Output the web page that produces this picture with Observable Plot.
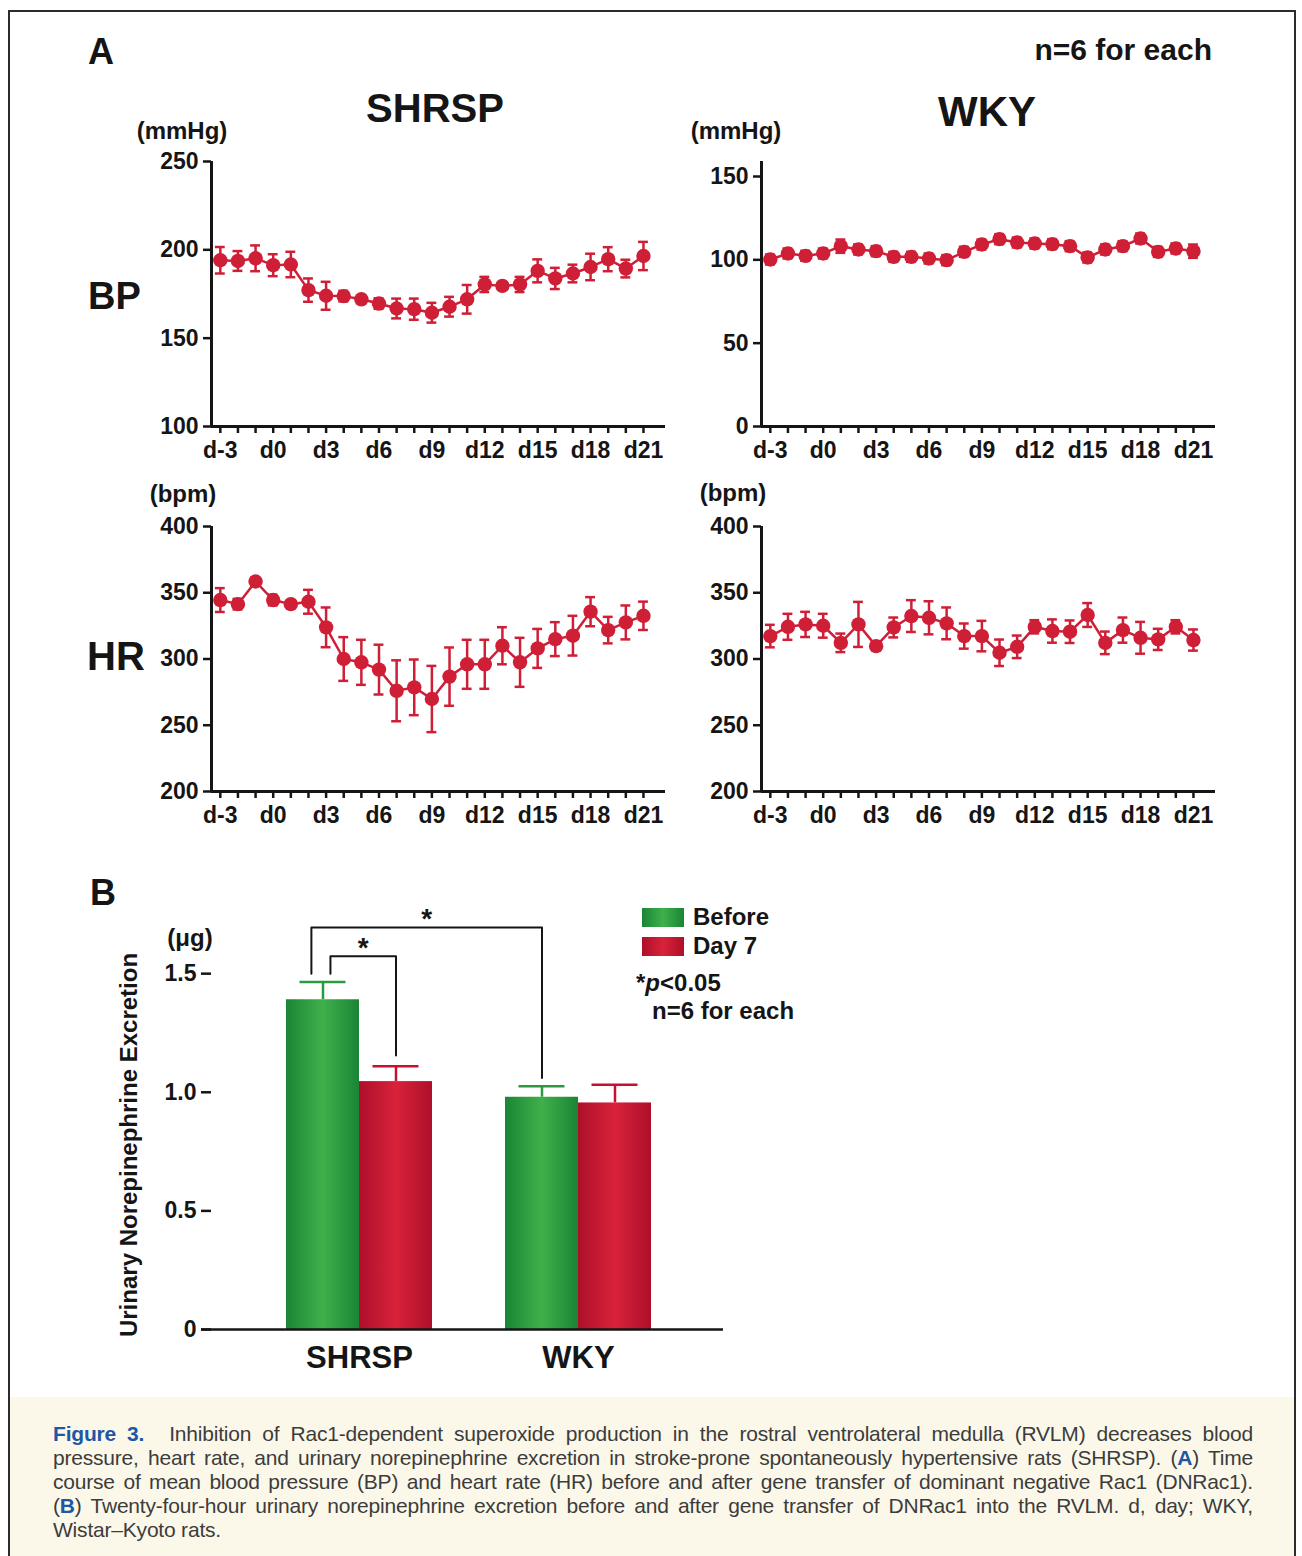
<!DOCTYPE html>
<html><head><meta charset="utf-8">
<script src="https://cdn.jsdelivr.net/npm/d3@7"></script>
<script src="https://cdn.jsdelivr.net/npm/@observablehq/plot@0.6"></script>
<style>
html,body{margin:0;padding:0;background:#fff;overflow:hidden;}
#fig{position:relative;width:1302px;height:1556px;overflow:hidden;font-family:"Liberation Sans",Arial,Helvetica,sans-serif;color:#151515;}
.lbl{position:absolute;white-space:nowrap;line-height:1;font-weight:bold;}
.plot{position:absolute;}
#frame{position:absolute;left:8px;top:10px;width:1284px;height:1600px;border:2.5px solid #2b2b2b;border-bottom:none;}
#capbg{position:absolute;left:10px;top:1397px;width:1284px;height:170px;background:#fbf8ea;}
#caption{position:absolute;left:53px;top:1422px;width:1200px;font-size:21px;line-height:24px;color:#3c3c3c;letter-spacing:-0.2px;}
#caption div{white-space:nowrap;text-align:justify;text-align-last:justify;}
#caption div.last{text-align-last:left;}
#caption b{color:#1f57a4;}
.sw{position:absolute;width:42px;height:19px;}
</style></head>
<body><div id="fig"><div id="capbg"></div><div id="frame"></div></div>
<script>
// ---------- data ----------
const days = [-3,-2,-1,0,1,2,3,4,5,6,7,8,9,10,11,12,13,14,15,16,17,18,19,20,21];
const dayLabels = ["d-3","d0","d3","d6","d9","d12","d15","d18","d21"];

const bpShrsp   = [194.1,193.7,195.2,191.3,191.7,177.2,174.0,173.8,172.0,169.6,166.8,166.4,164.4,167.8,172.0,180.4,179.6,180.4,188.1,183.8,186.6,190.3,194.7,189.4,196.5];
const bpShrspSE = [7.5,5.6,7.3,6.2,7.2,6.6,7.9,3,2,3,5.6,6,5.6,5.6,8.1,4.3,2,4.3,6.5,6,5,7.5,6.8,5,8];

const bpWky   = [100.2,103.8,102.4,103.8,108.2,106.2,105.2,101.8,101.8,100.8,99.8,104.8,109.2,112.4,110.4,109.8,109.4,108.2,101.4,106.2,108.2,112.8,104.8,106.8,105.2];
const bpWkySE = [3,3,3,3,4,3,3,3,3,3,3,3,3,3,3,3,3,3,3,3,3,3,3,3,4];

const hrShrsp   = [344.5,341.4,358.5,344.5,341.4,343.2,323.9,300.0,297.5,292.0,276.0,278.6,269.8,286.7,296.0,296.0,310.0,297.5,308.0,315.0,317.6,335.7,321.8,327.6,332.6];
const hrShrspSE = [9,4,3,4,2,9,15,16.5,17,18.8,23,21,25,22,18.5,18.5,14,18.5,14.7,12.8,15,11,10,12.8,10.7];

const hrWky   = [317.3,324.3,326.1,325.1,312.2,326.1,309.7,323.8,332.4,331.1,326.9,317.3,317.3,304.7,309.2,324.3,321.1,320.6,333.2,312.2,321.8,316.0,314.8,324.3,314.3];
const hrWkySE = [8.5,9.8,9.5,9,7,17,2,7.5,12,12.5,12,9.5,11.5,10,8.5,5,8.8,8.5,9,8.5,9.5,12,8,5,8];

const strains = ["SHRSP", "WKY"];
const phases = ["Before", "Day 7"];
const neBefore   = [1.39, 0.979];
const neBeforeSE = [0.075, 0.046];
const neDay7     = [1.045, 0.955];
const neDay7SE   = [0.065, 0.077];

// significance brackets: [strain index, phase index] pairs and heights (µg)
const sigPairs = [
  {a: [0, 0], b: [0, 1], top: 1.573, aBase: 1.50, bBase: 1.155, aShift: 0.034},
  {a: [0, 0], b: [1, 0], top: 1.695, aBase: 1.50, bBase: 1.06, aShift: -0.053}
];

// ---------- style ----------
const RED = "#cf1f36";
const FONT = '"Liberation Sans", Arial, Helvetica, sans-serif';
const fig = document.getElementById("fig");

function addLabel(html, x, y, size, anchor = "middle", extra = "") {
  const d = document.createElement("div");
  d.className = "lbl";
  d.innerHTML = html;
  d.style.left = x + "px";
  d.style.top = y + "px";
  d.style.fontSize = size + "px";
  const tx = anchor === "middle" ? "-50%" : anchor === "end" ? "-100%" : "0";
  d.style.transform = `translate(${tx},-50%)` + extra;
  fig.appendChild(d);
  return d;
}

function place(el, left, top) {
  el.classList.add("plot");
  el.style.left = left + "px";
  el.style.top = top + "px";
  fig.appendChild(el);
}

function timePanel({values, se, yDomain, yTicks, width, marginLeft, marginRight}) {
  const rows = days.map((d, i) => ({day: d, v: values[i], lo: values[i] - se[i], hi: values[i] + se[i]}));
  const cap = 0.28;
  return Plot.plot({
    width, height: 340, marginLeft, marginRight, marginTop: 21, marginBottom: 54,
    x: {domain: [-3.5, 22.25]},
    y: {domain: yDomain},
    style: {background: "transparent", overflow: "visible", fontFamily: FONT, fontWeight: "bold", fontSize: "23px", color: "#151515"},
    marks: [
      Plot.axisY({ticks: yTicks, tickSize: 8, tickPadding: 5, strokeWidth: 2.5, label: null, tickFormat: d => String(d)}),
      Plot.axisX({ticks: days, tickSize: 7, tickPadding: 8, strokeWidth: 2.5, label: null,
                  tickFormat: d => dayLabels.includes("d" + d) ? "d" + d : ""}),
      Plot.ruleX([-3.5], {strokeWidth: 3, stroke: "#151515"}),
      Plot.ruleY([yDomain[0]], {strokeWidth: 3, stroke: "#151515"}),
      Plot.ruleX(rows, {x: "day", y1: "lo", y2: "hi", stroke: RED, strokeWidth: 2.5}),
      Plot.ruleY(rows, {y: "hi", x1: d => d.day - cap, x2: d => d.day + cap, stroke: RED, strokeWidth: 2.5}),
      Plot.ruleY(rows, {y: "lo", x1: d => d.day - cap, x2: d => d.day + cap, stroke: RED, strokeWidth: 2.5}),
      Plot.line(rows, {x: "day", y: "v", stroke: RED, strokeWidth: 2.5}),
      Plot.dot(rows, {x: "day", y: "v", r: 7.2, fill: RED})
    ]
  });
}

// ---------- panel A ----------
place(timePanel({values: bpShrsp, se: bpShrspSE, yDomain: [100, 250], yTicks: [100, 150, 200, 250],
                 width: 690, marginLeft: 211, marginRight: 25}), 0, 140);
place(timePanel({values: bpWky, se: bpWkySE, yDomain: [0, 159], yTicks: [0, 50, 100, 150],
                 width: 612, marginLeft: 71, marginRight: 87}), 690, 140);
place(timePanel({values: hrShrsp, se: hrShrspSE, yDomain: [200, 400], yTicks: [200, 250, 300, 350, 400],
                 width: 690, marginLeft: 211, marginRight: 25}), 0, 505);
place(timePanel({values: hrWky, se: hrWkySE, yDomain: [200, 400], yTicks: [200, 250, 300, 350, 400],
                 width: 612, marginLeft: 71, marginRight: 87}), 690, 505);

addLabel("A", 88, 52, 36, "start");
addLabel("n=6 for each", 1212, 50, 30, "end");
addLabel("SHRSP", 435, 108, 40);
addLabel("WKY", 987, 112, 42);
addLabel("(mmHg)", 182, 131, 24);
addLabel("(mmHg)", 736, 131, 24);
addLabel("BP", 88, 296, 38, "start");
addLabel("(bpm)", 183, 494, 24);
addLabel("(bpm)", 733, 493, 24);
addLabel("HR", 87, 656, 40, "start");

// ---------- panel B ----------
const bw = 1 / 3;
const barRows = [];
strains.forEach((s, gi) => {
  barRows.push({strain: s, phase: phases[0], gi, pi: 0, v: neBefore[gi], se: neBeforeSE[gi]});
  barRows.push({strain: s, phase: phases[1], gi, pi: 1, v: neDay7[gi], se: neDay7SE[gi]});
});
const bx1 = r => r.gi + (r.pi - 1) * bw;
const bxc = r => bx1(r) + bw / 2;
const capW = 0.105;
const xOf = ([gi, pi]) => gi + (pi - 1) * bw + bw / 2;

const barMarks = [];
[["url(#gBefore)", "#2a9a3c"], ["url(#gDay7)", "#c8102e"]].forEach(([fill, col], pi) => {
  const rows = barRows.filter(r => r.pi === pi);
  barMarks.push(
    Plot.ruleX(rows, {x: bxc, y1: "v", y2: r => r.v + r.se, stroke: col, strokeWidth: 2.5}),
    Plot.ruleY(rows, {y: r => r.v + r.se, x1: r => bxc(r) - capW, x2: r => bxc(r) + capW, stroke: col, strokeWidth: 2.5}),
    Plot.rect(rows, {x1: bx1, x2: r => bx1(r) + bw, y1: 0, y2: "v", fill})
  );
});
sigPairs.forEach(p => {
  const xa = xOf(p.a) + p.aShift, xb = xOf(p.b);
  barMarks.push(Plot.line([[xa, p.aBase], [xa, p.top], [xb, p.top], [xb, p.bBase]], {stroke: "#151515", strokeWidth: 2}));
});
barMarks.push(Plot.text(sigPairs, {x: p => (xOf(p.a) + p.aShift + xOf(p.b)) / 2, y: "top", text: () => "*", dy: -8, fontSize: 28}));

const barPlot = Plot.plot({
  width: 800, height: 520, marginLeft: 211, marginRight: 77, marginTop: 22, marginBottom: 71,
  x: {domain: [-0.6758, 1.6621]},
  y: {domain: [0, 1.8]},
  style: {background: "transparent", overflow: "visible", fontFamily: FONT, fontWeight: "bold", fontSize: "23px", color: "#151515"},
  marks: [
    Plot.axisY({ticks: [0, 0.5, 1, 1.5], tickFormat: d => d === 0 ? "0" : d.toFixed(1), tickSize: 10, tickPadding: 5, strokeWidth: 2.5, label: null}),
    Plot.axisX({ticks: [0, 1], tickFormat: i => strains[i], tickSize: 0, tickPadding: 16, fontSize: 31, label: null}),
    ...barMarks,
    Plot.ruleY([0], {strokeWidth: 2.5, stroke: "#151515", insetLeft: -10})
  ]
});
const defs = d3.select(barPlot).insert("defs", ":first-child");
function grad(id, edge, mid) {
  const g = defs.append("linearGradient").attr("id", id).attr("x1", "0").attr("x2", "1").attr("y1", "0").attr("y2", "0");
  g.append("stop").attr("offset", "0").attr("stop-color", edge);
  g.append("stop").attr("offset", "0.5").attr("stop-color", mid);
  g.append("stop").attr("offset", "1").attr("stop-color", edge);
}
grad("gBefore", "#1a8535", "#3fb04b");
grad("gDay7", "#ae0f2a", "#d9223a");
place(barPlot, 0, 880);

addLabel("B", 90, 893, 36, "start");
addLabel("(\u03bcg)", 190, 938, 24);
addLabel("Urinary Norepinephrine Excretion", 129, 1145, 24, "middle", " rotate(-90deg)");

function swatch(top, edge, mid) {
  const s = document.createElement("div");
  s.className = "sw";
  s.style.left = "642px"; s.style.top = top + "px";
  s.style.background = `linear-gradient(to right, ${edge}, ${mid} 50%, ${edge})`;
  fig.appendChild(s);
}
swatch(908, "#1a8535", "#3fb04b");
swatch(937, "#ae0f2a", "#d9223a");
addLabel(phases[0], 693, 917, 24, "start");
addLabel(phases[1], 693, 946, 24, "start");
addLabel("*<i>p</i>&lt;0.05", 636, 983, 24, "start");
addLabel("n=6 for each", 652, 1011, 24, "start");

// ---------- caption ----------
const cap = document.createElement("div");
cap.id = "caption";
cap.innerHTML = [
  '<div><b style="margin-right:14px">Figure 3.</b> Inhibition of Rac1-dependent superoxide production in the rostral ventrolateral medulla (RVLM) decreases blood</div>',
  '<div>pressure, heart rate, and urinary norepinephrine excretion in stroke-prone spontaneously hypertensive rats (SHRSP). (<b>A</b>) Time</div>',
  '<div>course of mean blood pressure (BP) and heart rate (HR) before and after gene transfer of dominant negative Rac1 (DNRac1).</div>',
  '<div>(<b>B</b>) Twenty-four-hour urinary norepinephrine excretion before and after gene transfer of DNRac1 into the RVLM. d, day; WKY,</div>',
  '<div class="last">Wistar\u2013Kyoto rats.</div>'
].join("");
fig.appendChild(cap);
</script>
</body></html>
